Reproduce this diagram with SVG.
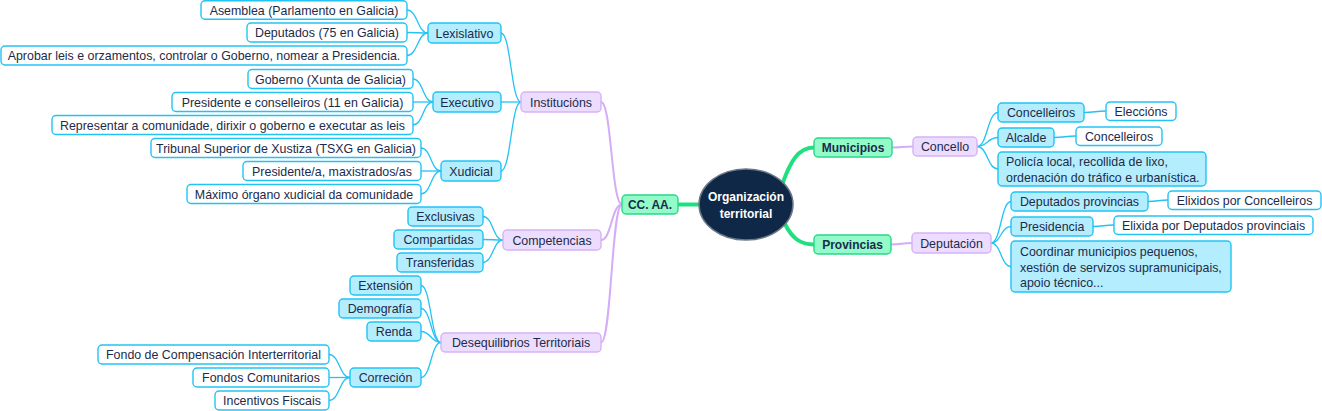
<svg xmlns="http://www.w3.org/2000/svg" width="1322" height="411" viewBox="0 0 1322 411">
<style>
.bw{fill:#ffffff;stroke:#22c3f3;stroke-width:1.4}
.bc{fill:#b4edfd;stroke:#22c3f3;stroke-width:1.4}
.bp{fill:#ecdcfd;stroke:#d6b2f6;stroke-width:1.4}
.bg{fill:#92fbc9;stroke:#2ad886;stroke-width:1.4}
text{font-family:"Liberation Sans",Arial,sans-serif;font-size:12.4px;fill:#1c2b4a}
.m{text-anchor:middle}
.b{font-weight:bold;font-size:12px}
.r{fill:#ffffff;font-weight:bold;font-size:12px;text-anchor:middle}
.cc{fill:none;stroke:#22c3f3;stroke-width:1.3}
.cp{fill:none;stroke:#d5acf6;stroke-width:2}
.cg{fill:none;stroke:#1fe07e;stroke-width:4}
</style>
<g id="connectors">
<path class="cc" d="M428 33C417.5 33 417.5 10 407 10"/>
<path class="cc" d="M428 33C417.5 33 417.5 32.5 407 32.5"/>
<path class="cc" d="M428 33C417.5 33 417.5 55.5 407 55.5"/>
<path class="cc" d="M433 102C423 102 423 79 413 79"/>
<path class="cc" d="M433 102L413 102"/>
<path class="cc" d="M433 102C423 102 423 125 413 125"/>
<path class="cc" d="M441 171C431 171 431 148 421 148"/>
<path class="cc" d="M441 171L421 171"/>
<path class="cc" d="M441 171C431 171 431 194 421 194"/>
<path class="cc" d="M521 102C511 102 511 33 501 33"/>
<path class="cc" d="M521 102L501 102"/>
<path class="cc" d="M521 102C511 102 511 171 501 171"/>
<path class="cc" d="M503 240C493 240 493 216.5 483 216.5"/>
<path class="cc" d="M503 240C493 240 493 239.5 483 239.5"/>
<path class="cc" d="M503 240C493 240 493 262.5 483 262.5"/>
<path class="cc" d="M441 342.5C431 342.5 431 285.5 421 285.5"/>
<path class="cc" d="M441 342.5C431 342.5 431 308.5 421 308.5"/>
<path class="cc" d="M441 342.5C431 342.5 431 331.5 421 331.5"/>
<path class="cc" d="M441 342.5C431 342.5 431 377.5 421 377.5"/>
<path class="cc" d="M350 377.5C339.5 377.5 339.5 354.5 329 354.5"/>
<path class="cc" d="M350 377.5L329 377.5"/>
<path class="cc" d="M350 377.5C339.5 377.5 339.5 400.5 329 400.5"/>
<path class="cc" d="M977 146.5C987.5 146.5 987.5 112.5 998 112.5"/>
<path class="cc" d="M977 146.5C987.5 146.5 987.5 137.5 998 137.5"/>
<path class="cc" d="M977 146.5C987.5 146.5 987.5 169 998 169"/>
<path class="cc" d="M1084 112.5C1095 112.5 1095 111 1106 111"/>
<path class="cc" d="M1054 137.5C1065 137.5 1065 136 1076 136"/>
<path class="cc" d="M991 243C1001 243 1001 201.5 1011 201.5"/>
<path class="cc" d="M991 243C1001 243 1001 226.5 1011 226.5"/>
<path class="cc" d="M991 243C1001 243 1001 266.5 1011 266.5"/>
<path class="cc" d="M1148 201.5C1158 201.5 1158 200 1168 200"/>
<path class="cc" d="M1093 226.5C1103.5 226.5 1103.5 225 1114 225"/>
<path class="cp" d="M622 204.5C611.5 204.5 611.5 102 601 102"/>
<path class="cp" d="M622 204.5C611.5 204.5 611.5 240 601 240"/>
<path class="cp" d="M622 204.5C611.5 204.5 611.5 342.5 601 342.5"/>
<path class="cp" d="M892 147.5C902.5 147.5 902.5 146.5 913 146.5"/>
<path class="cp" d="M891 244.5C901.5 244.5 901.5 243 912 243"/>
<path class="cg" d="M678 204.5L702 204.5"/>
<path class="cg" d="M782 185C790 162 798 147.5 814 147.5"/>
<path class="cg" d="M785 224C792 238 800 244.5 814 244.5"/>
</g>
<g id="root">
<ellipse cx="746" cy="204.5" rx="47" ry="35.5" fill="#0f2847" stroke="#6b7785" stroke-width="1.5"/>
<text class="r" x="746" y="201">Organización</text>
<text class="r" x="746" y="218">territorial</text>
</g>
<g id="ccaa"><rect class="bg" x="622" y="195" width="56" height="19" rx="4"/><text class="m b" x="650" y="209">CC. AA.</text></g>
<g id="institucions"><rect class="bp" x="521" y="92" width="80" height="20" rx="4"/><text class="m" x="561" y="106.5">Institucións</text></g>
<g id="competencias"><rect class="bp" x="503" y="230" width="98" height="20" rx="4"/><text class="m" x="552" y="244.5">Competencias</text></g>
<g id="desequilibrios"><rect class="bp" x="441" y="333" width="160" height="19" rx="4"/><text class="m" x="521" y="347">Desequilibrios Territoriais</text></g>
<g id="lexislativo"><rect class="bc" x="428" y="23" width="73" height="20" rx="4"/><text class="m" x="464.5" y="37.5">Lexislativo</text></g>
<g id="executivo"><rect class="bc" x="433" y="92" width="68" height="20" rx="4"/><text class="m" x="467" y="106.5">Executivo</text></g>
<g id="xudicial"><rect class="bc" x="441" y="161" width="60" height="20" rx="4"/><text class="m" x="471" y="175.5">Xudicial</text></g>
<g id="asemblea"><rect class="bw" x="201" y="0.8" width="206" height="18.5" rx="4"/><text class="m" x="304" y="14.5">Asemblea (Parlamento en Galicia)</text></g>
<g id="deputados"><rect class="bw" x="247" y="23" width="160" height="19" rx="4"/><text class="m" x="327" y="37">Deputados (75 en Galicia)</text></g>
<g id="aprobar"><rect class="bw" x="1" y="46" width="406" height="19" rx="4"/><text class="m" x="204" y="60">Aprobar leis e orzamentos, controlar o Goberno, nomear a Presidencia.</text></g>
<g id="goberno"><rect class="bw" x="248" y="69.5" width="165" height="19" rx="4"/><text class="m" x="330.5" y="83.5">Goberno (Xunta de Galicia)</text></g>
<g id="presidente"><rect class="bw" x="172" y="92.5" width="241" height="19" rx="4"/><text class="m" x="292.5" y="106.5">Presidente e conselleiros (11 en Galicia)</text></g>
<g id="representar"><rect class="bw" x="52" y="115.5" width="361" height="19" rx="4"/><text class="m" x="232.5" y="129.5">Representar a comunidade, dirixir o goberno e executar as leis</text></g>
<g id="tribunal"><rect class="bw" x="151" y="138.5" width="270" height="19" rx="4"/><text class="m" x="286" y="152.5">Tribunal Superior de Xustiza (TSXG en Galicia)</text></g>
<g id="presidentea"><rect class="bw" x="243" y="161.5" width="178" height="19" rx="4"/><text class="m" x="332" y="175.5">Presidente/a, maxistrados/as</text></g>
<g id="maximo"><rect class="bw" x="187" y="184.5" width="234" height="19" rx="4"/><text class="m" x="304" y="198.5">Máximo órgano xudicial da comunidade</text></g>
<g id="exclusivas"><rect class="bc" x="408" y="207" width="75" height="19" rx="4"/><text class="m" x="445.5" y="221">Exclusivas</text></g>
<g id="compartidas"><rect class="bc" x="394" y="230" width="89" height="19" rx="4"/><text class="m" x="438.5" y="244">Compartidas</text></g>
<g id="transferidas"><rect class="bc" x="397" y="253" width="86" height="19" rx="4"/><text class="m" x="440" y="267">Transferidas</text></g>
<g id="extension"><rect class="bc" x="350" y="276" width="71" height="19" rx="4"/><text class="m" x="385.5" y="290">Extensión</text></g>
<g id="demografia"><rect class="bc" x="339" y="299" width="82" height="19" rx="4"/><text class="m" x="380" y="313">Demografía</text></g>
<g id="renda"><rect class="bc" x="367" y="322" width="54" height="19" rx="4"/><text class="m" x="394" y="336">Renda</text></g>
<g id="correcion"><rect class="bc" x="350" y="368" width="71" height="19" rx="4"/><text class="m" x="385.5" y="382">Correción</text></g>
<g id="fondo"><rect class="bw" x="98" y="345" width="231" height="19" rx="4"/><text class="m" x="213.5" y="359">Fondo de Compensación Interterritorial</text></g>
<g id="fondos"><rect class="bw" x="193" y="368" width="136" height="19" rx="4"/><text class="m" x="261" y="382">Fondos Comunitarios</text></g>
<g id="incentivos"><rect class="bw" x="215" y="391" width="114" height="19" rx="4"/><text class="m" x="272" y="405">Incentivos Fiscais</text></g>
<g id="municipios"><rect class="bg" x="814" y="138" width="78" height="19" rx="4"/><text class="m b" x="853" y="152">Municipios</text></g>
<g id="provincias"><rect class="bg" x="814" y="235" width="77" height="19" rx="4"/><text class="m b" x="852.5" y="249">Provincias</text></g>
<g id="concello"><rect class="bp" x="913" y="137" width="64" height="19" rx="4"/><text class="m" x="945" y="151">Concello</text></g>
<g id="deputacion"><rect class="bp" x="912" y="233" width="79" height="20" rx="4"/><text class="m" x="951.5" y="247.5">Deputación</text></g>
<g id="concelleiros"><rect class="bc" x="998" y="103" width="86" height="19" rx="4"/><text class="m" x="1041" y="117">Concelleiros</text></g>
<g id="eleccions"><rect class="bw" x="1106" y="102" width="70" height="18.5" rx="4"/><text class="m" x="1141" y="115.5">Eleccións</text></g>
<g id="alcalde"><rect class="bc" x="998" y="128" width="56" height="19" rx="4"/><text class="m" x="1026" y="142">Alcalde</text></g>
<g id="concelleiros2"><rect class="bw" x="1076" y="127" width="86" height="18.5" rx="4"/><text class="m" x="1119" y="140.5">Concelleiros</text></g>
<g id="policia"><rect class="bc" x="998" y="152" width="208" height="34" rx="4"/><text x="1006" y="166">Policía local, recollida de lixo,</text><text x="1006" y="181.5">ordenación do tráfico e urbanística.</text></g>
<g id="deputadosprov"><rect class="bc" x="1011" y="192" width="137" height="19" rx="4"/><text class="m" x="1079.5" y="206">Deputados provincias</text></g>
<g id="elixidos"><rect class="bw" x="1168" y="191" width="153" height="18.5" rx="4"/><text class="m" x="1244.5" y="204.5">Elixidos por Concelleiros</text></g>
<g id="presidencia"><rect class="bc" x="1011" y="217" width="82" height="19" rx="4"/><text class="m" x="1052" y="231">Presidencia</text></g>
<g id="elixida"><rect class="bw" x="1114" y="216" width="199" height="18.5" rx="4"/><text class="m" x="1213.5" y="229.5">Elixida por Deputados provinciais</text></g>
<g id="coordinar"><rect class="bc" x="1011" y="241" width="220" height="51" rx="4"/><text x="1020" y="256">Coordinar municipios pequenos,</text><text x="1020" y="271.5">xestión de servizos supramunicipais,</text><text x="1020" y="287">apoio técnico...</text></g>
</svg>
